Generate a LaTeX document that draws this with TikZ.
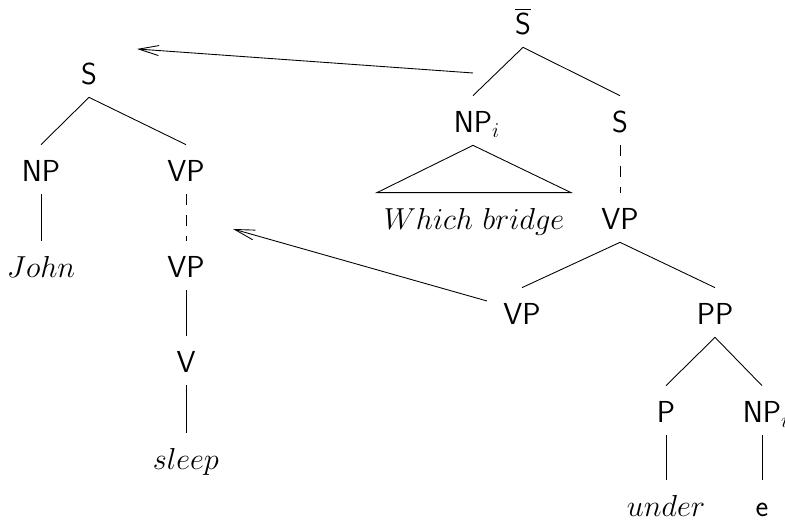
\documentclass[tikz,border=0pt]{standalone}
\usepackage{amsmath}
\usetikzlibrary{arrows.meta}

\begin{document}
\begin{tikzpicture}[
    every node/.style={font=\fontsize{17.28}{21}\selectfont\sffamily},
    cat/.style={inner sep=0pt, text height=7.4mm, text depth=2.4mm, anchor=base},
    roof/.style={cat, inner xsep=1.3mm},
    branch/.style={line width=0.5pt},
    trace/.style={branch, dash pattern=on 2.2mm off 2mm},
    move/.style={branch, -{Straight Barb[length=4mm, width=2mm]}}
]
        \useasboundingbox (0,0) rectangle (15.7,10.46);

        % --- MATRIX CLAUSE ---
        \node[cat] (s) at (1.78, 8.76) {S};
        \node[cat] (np) at (0.82, 6.82) {NP};
        \node[cat] (vp) at (3.72, 6.82) {VP};
        \node[cat] (john) at (0.82, 4.90) {$John$};
        \node[cat] (vpl) at (3.72, 4.90) {VP};
        \node[cat] (v) at (3.72, 3.00) {V};
        \node[cat] (sleep) at (3.72, 1.06) {$sleep$};

        \draw[branch] (s.south) -- (np.north);
        \draw[branch] (s.south) -- (vp.north);
        \draw[branch] (np.south) -- (john.north);
        \draw[trace] (vp.south) -- (vpl.north);
        \draw[branch] (vpl.south) -- (v.north);
        \draw[branch] (v.south) -- (sleep.north);

        % --- FRONTED CLAUSE ---
        \node[cat] (sbar) at (10.46, 9.76) {$\overline{\textsf{S}}$};
        \node[cat] (npi) at (9.46, 7.80) {NP\rlap{$_i$}};
        \node[cat] (sr) at (12.40, 7.80) {S};
        \node[roof] (which) at (9.48, 5.86) {$Which\ bridge$};
        \node[cat] (vpr) at (12.40, 5.86) {VP};
        \node[cat] (vpb) at (10.44, 3.96) {VP};
        \node[cat] (pp) at (14.30, 3.96) {PP};
        \node[cat] (p) at (13.32, 2.00) {P};
        \node[cat] (npe) at (15.24, 2.00) {NP\rlap{$_i$}};
        \node[cat] (under) at (13.32, 0.12) {$under$};
        \node[cat] (e) at (15.24, 0.12) {e};

        \draw[branch] (sbar.south) -- (npi.north);
        \draw[branch] (sbar.south) -- (sr.north);
        \draw[branch] (npi.south) -- (which.north west) -- (which.north east) -- cycle;
        \draw[trace] (sr.south) -- (vpr.north);
        \draw[branch] (vpr.south) -- (vpb.north);
        \draw[branch] (vpr.south) -- (pp.north);
        \draw[branch] (pp.south) -- (p.north);
        \draw[branch] (pp.south) -- (npe.north);
        \draw[branch] (p.south) -- (under.north);
        \draw[branch] (npe.south) -- (e.north);

        % Movement arrows
        \coordinate (wh-from) at (9.46, 9.00);
        \coordinate (wh-to) at (2.74, 9.48);
        \coordinate (vp-from) at (9.74, 4.44);
        \coordinate (vp-to) at (4.66, 5.88);
        \draw[move] (wh-from) -- (wh-to);
        \draw[move] (vp-from) -- (vp-to);
    \end{tikzpicture}
\end{document}
